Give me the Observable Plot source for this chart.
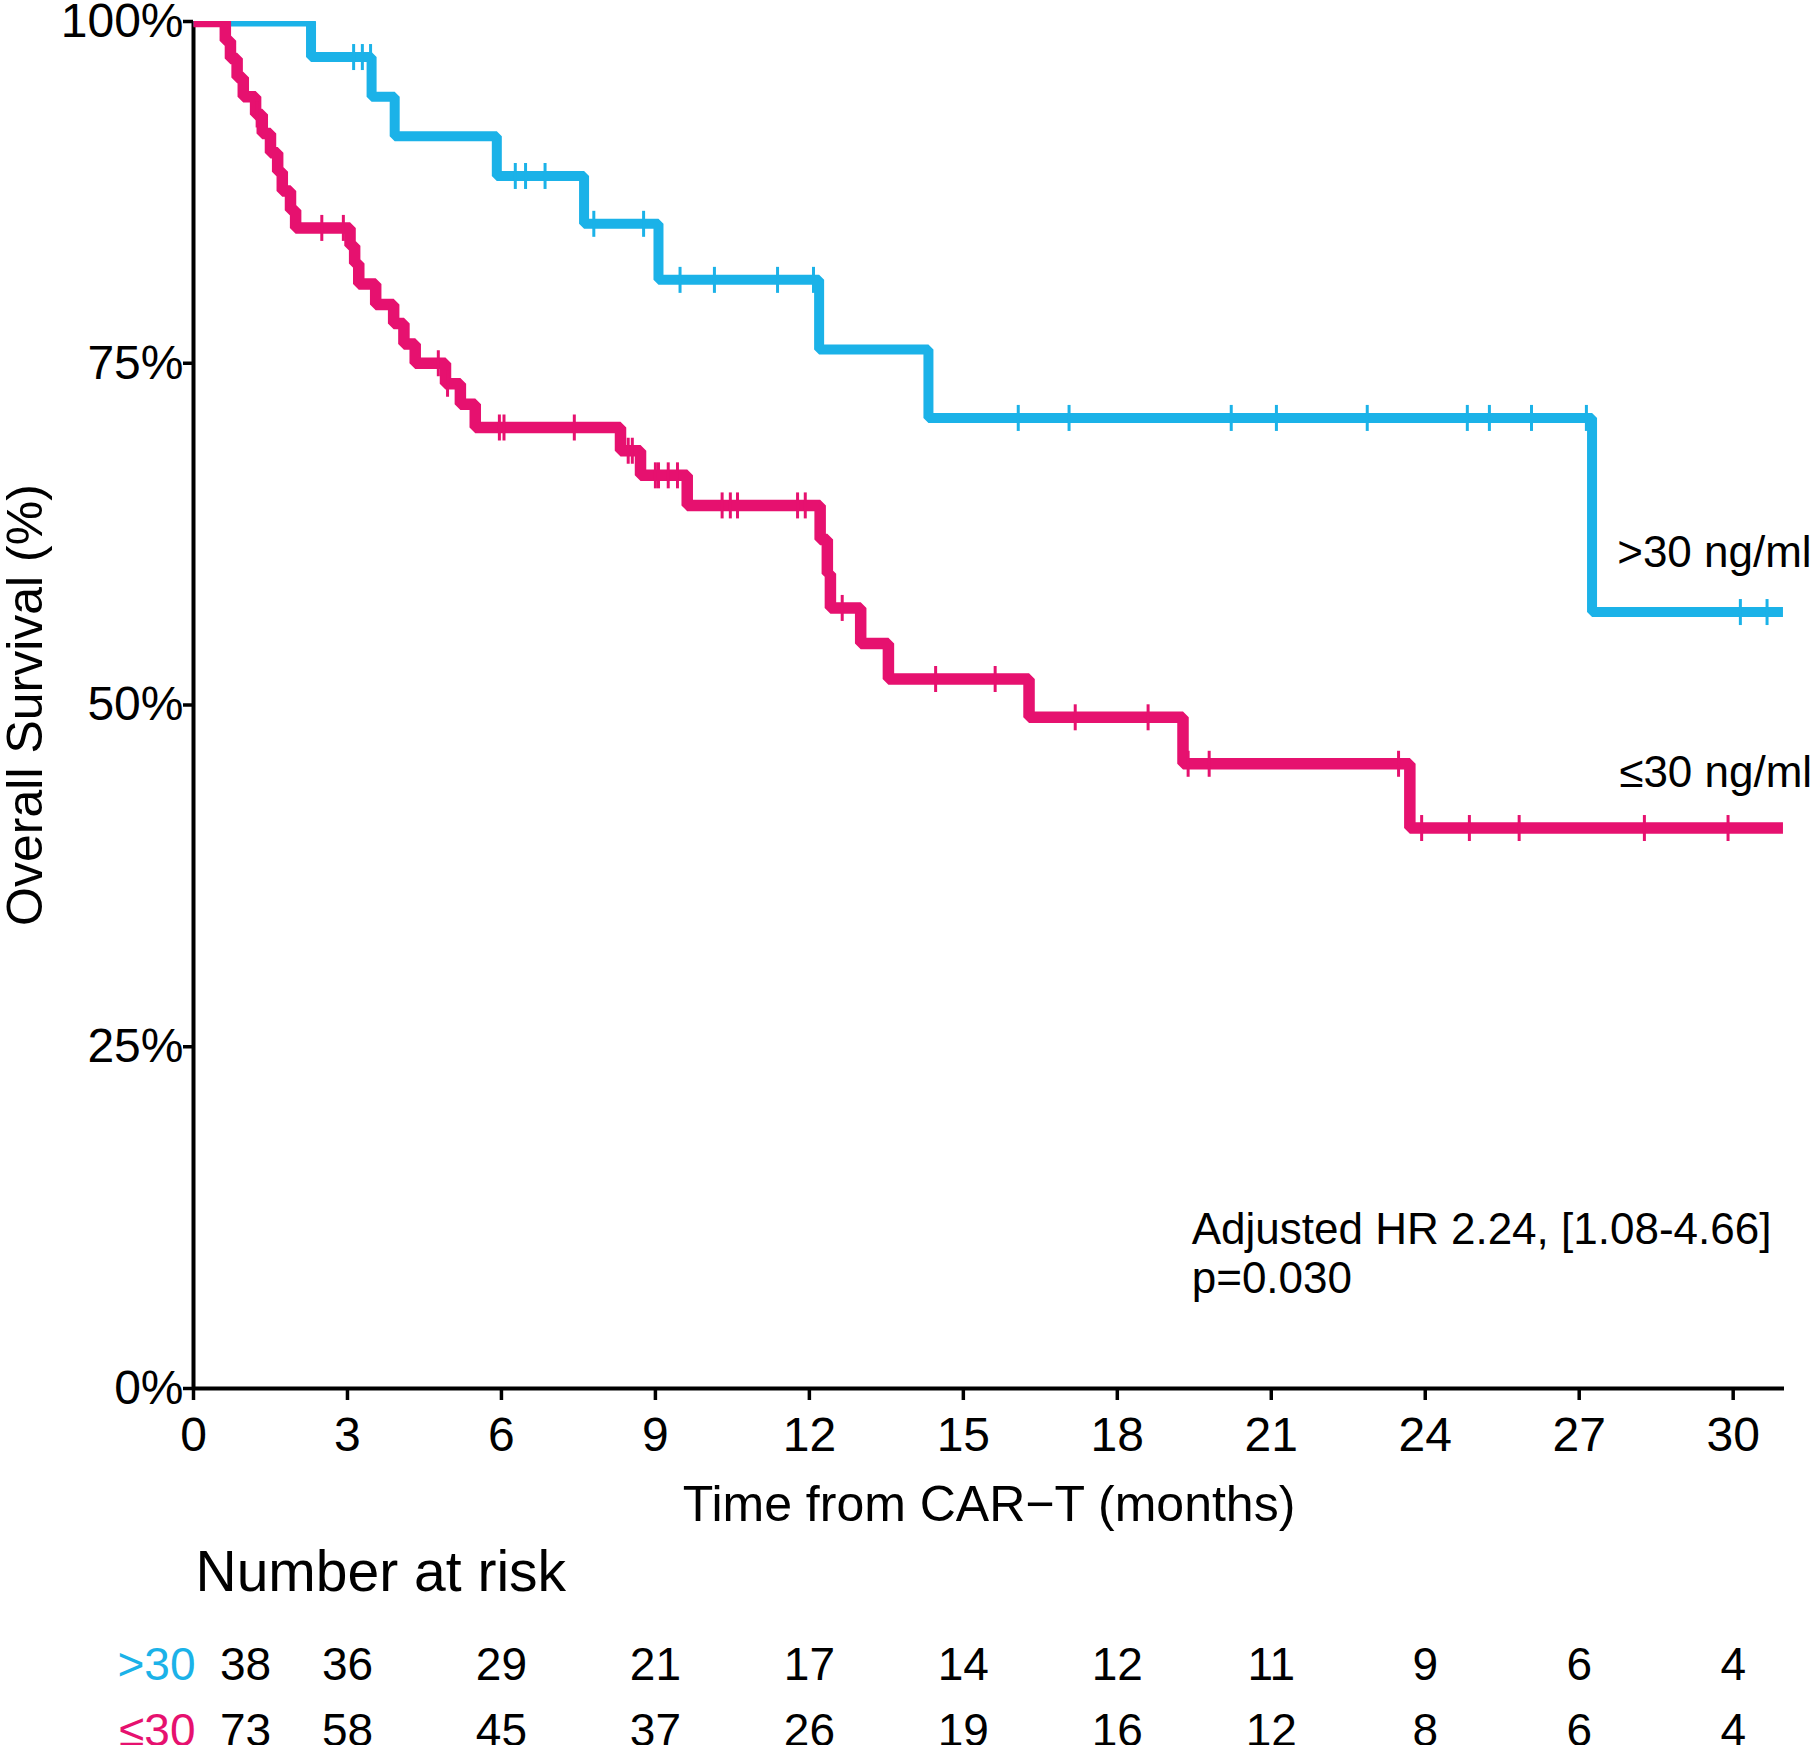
<!DOCTYPE html>
<html>
<head>
<meta charset="utf-8">
<script src="https://cdn.jsdelivr.net/npm/d3@7"></script>
<script src="https://cdn.jsdelivr.net/npm/@observablehq/plot@0.6"></script>
<style>
  html, body { margin: 0; padding: 0; background: #fff; }
  #chart svg { display: block; }
</style>
</head>
<body>
<div id="chart"></div>
<script>
// ---------- data ----------
const groups = [">30", "≤30"];
const groupLabels = [">30 ng/ml", "≤30 ng/ml"];
const colors = ["#1BB2E8", "#E6116F"];

// >30 ng/ml : Kaplan-Meier step points (months, survival)
const highT = [0, 2.29, 3.47, 3.92, 5.91, 7.61, 9.06, 12.19, 14.32, 27.25, 30.97];
const highS = [1, 0.974, 0.945, 0.916, 0.887, 0.852, 0.811, 0.760, 0.710, 0.568, 0.568];
const highCensor = [3.12, 3.29, 3.45, 6.27, 6.47, 6.85, 7.80, 8.77, 9.48, 10.15, 11.38, 12.08,
  16.07, 17.06, 20.22, 21.10, 22.87, 24.82, 25.25, 26.07, 27.14, 30.14, 30.66];

// <=30 ng/ml : Kaplan-Meier step points (months, survival)
const lowT = [0, 0.62, 0.72, 0.85, 0.97, 1.21, 1.34, 1.50, 1.64, 1.73, 1.89, 1.99,
  3.05, 3.14, 3.22, 3.55, 3.90, 4.10, 4.32, 4.91, 5.20, 5.49,
  8.32, 8.71, 9.62, 12.21, 12.35, 12.41, 13.00, 13.54, 16.28, 19.28, 23.70, 30.97];
const lowS = [1, 0.986, 0.973, 0.959, 0.945, 0.932, 0.918, 0.904, 0.890, 0.876, 0.862, 0.849,
  0.836, 0.823, 0.808, 0.793, 0.779, 0.764, 0.750, 0.735, 0.720, 0.703,
  0.686, 0.668, 0.646, 0.621, 0.596, 0.571, 0.545, 0.519, 0.491, 0.457, 0.410, 0.410];
const lowCensor = [1.24, 2.50, 2.92, 4.77, 4.95, 5.96, 6.05, 7.42, 8.47, 8.55, 9.00, 9.06, 9.25, 9.43,
  10.30, 10.46, 10.60, 11.77, 11.92, 12.64, 14.46, 15.62, 17.18, 18.60, 19.38, 19.79,
  23.48, 23.93, 24.86, 25.83, 28.27, 29.90];

// axes
const xDomain = [0, 31];
const xTicks = [0, 3, 6, 9, 12, 15, 18, 21, 24, 27, 30];
const yTicks = [0, 0.25, 0.5, 0.75, 1];

// number at risk
const riskTimes = [0, 3, 6, 9, 12, 15, 18, 21, 24, 27, 30];
const riskHigh = [38, 36, 29, 21, 17, 14, 12, 11, 9, 6, 4];
const riskLow = [73, 58, 45, 37, 26, 19, 16, 12, 8, 6, 4];

const annotationText = "Adjusted HR 2.24, [1.08-4.66]\np=0.030";
const xLabel = "Time from CAR\u2212T (months)";
const yLabel = "Overall Survival (%)";

// ---------- build tables ----------
const FONT = "'Liberation Sans', Arial, Helvetica, sans-serif";
const steps = (T, S) => T.map((t, i) => ({t, s: S[i]}));
const survAt = (T, S, t) => S[d3.bisectRight(T, t) - 1];
const censors = (C, T, S) => C.map(t => ({t, s: survAt(T, S, t)}));

const stepHigh = steps(highT, highS);
const stepLow = steps(lowT, lowS);
const censHigh = censors(highCensor, highT, highS);
const censLow = censors(lowCensor, lowT, lowS);

// vertical censor tick symbol
const vtick = {
  draw(context, size) {
    const r = Math.sqrt(size / Math.PI);
    context.moveTo(0, -r);
    context.lineTo(0, r);
  }
};

const curveLabels = [
  {x: 27.74, y: 0.611, text: groupLabels[0]},
  {x: 27.78, y: 0.450, text: groupLabels[1]}
];

const main = Plot.plot({
  width: 1814,
  height: 1530,
  marginLeft: 193,
  marginRight: 30,
  marginTop: 21,
  marginBottom: 142,
  style: {fontFamily: FONT, fontSize: "48px", color: "#000", background: "#fff", overflow: "visible"},
  x: {domain: xDomain},
  y: {domain: [0, 1]},
  marks: [
    Plot.axisX({ticks: xTicks, tickSize: 12, tickPadding: 16, strokeWidth: 3.5, fontSize: 48, label: null}),
    Plot.axisY({ticks: yTicks, tickSize: 10, tickPadding: 0, strokeWidth: 3.5, fontSize: 48,
      tickFormat: d3.format(".0%"), label: null}),
    Plot.ruleX([0], {y1: 0, y2: 1, stroke: "#000", strokeWidth: 4}),
    Plot.ruleY([0], {x1: xDomain[0], x2: xDomain[1], stroke: "#000", strokeWidth: 4}),
    Plot.line(stepHigh, {x: "t", y: "s", curve: "step-after", stroke: colors[0], strokeWidth: 10,
      strokeLinejoin: "miter", strokeLinecap: "butt", clip: true}),
    Plot.dot(censHigh, {x: "t", y: "s", symbol: vtick, r: 13, stroke: colors[0], strokeWidth: 3, fill: "none"}),
    Plot.line(stepLow, {x: "t", y: "s", curve: "step-after", stroke: colors[1], strokeWidth: 11.5,
      strokeLinejoin: "miter", strokeLinecap: "butt", clip: true}),
    Plot.dot(censLow, {x: "t", y: "s", symbol: vtick, r: 13, stroke: colors[1], strokeWidth: 3, fill: "none"}),
    Plot.text(curveLabels, {x: "x", y: "y", text: "text", textAnchor: "start", lineAnchor: "middle",
      fontSize: 44, fill: "#000"}),
    Plot.text([annotationText], {x: 19.45, y: 0.0695, textAnchor: "start", lineAnchor: "bottom",
      lineHeight: 1.13, fontSize: 44, fill: "#000"}),
    Plot.text([xLabel], {frameAnchor: "bottom", textAnchor: "middle", lineAnchor: "bottom", dy: 132,
      fontSize: 50, fill: "#000"}),
    Plot.text([yLabel], {frameAnchor: "left", textAnchor: "middle", lineAnchor: "middle", rotate: -90,
      dx: -168, fontSize: 50, fill: "#000"})
  ]
});

// ---------- risk table ----------
const riskRows = [];
riskTimes.forEach((t, i) => {
  riskRows.push({t, g: groups[0], n: riskHigh[i]});
  riskRows.push({t, g: groups[1], n: riskLow[i]});
});
const groupRows = groups.map((g, i) => ({g, c: colors[i]}));

const table = Plot.plot({
  width: 1814,
  height: 215,
  marginLeft: 193,
  marginRight: 30,
  marginTop: 0,
  marginBottom: 0,
  style: {fontFamily: FONT, fontSize: "46px", color: "#000", background: "#fff", overflow: "visible"},
  x: {domain: xDomain, axis: null},
  y: {type: "point", domain: groups, range: [135, 201], padding: 0, axis: null},
  marks: [
    Plot.text(["Number at risk"], {frameAnchor: "top-left", textAnchor: "start", lineAnchor: "bottom",
      dx: 2, dy: 60, fontSize: 57, fill: "#000"}),
    Plot.text(groupRows, {frameAnchor: "left", y: "g", text: "g", fill: "c", textAnchor: "end",
      lineAnchor: "middle", dx: 2, fontSize: 46}),
    Plot.text(riskRows.filter(d => d.t === riskTimes[0]), {x: "t", y: "g", text: d => String(d.n),
      textAnchor: "middle", lineAnchor: "middle", dx: 52, fontSize: 46, fill: "#000"}),
    Plot.text(riskRows.filter(d => d.t !== riskTimes[0]), {x: "t", y: "g", text: d => String(d.n),
      textAnchor: "middle", lineAnchor: "middle", fontSize: 46, fill: "#000"})
  ]
});

const chart = document.getElementById("chart");
chart.appendChild(main);
chart.appendChild(table);
</script>
</body>
</html>
